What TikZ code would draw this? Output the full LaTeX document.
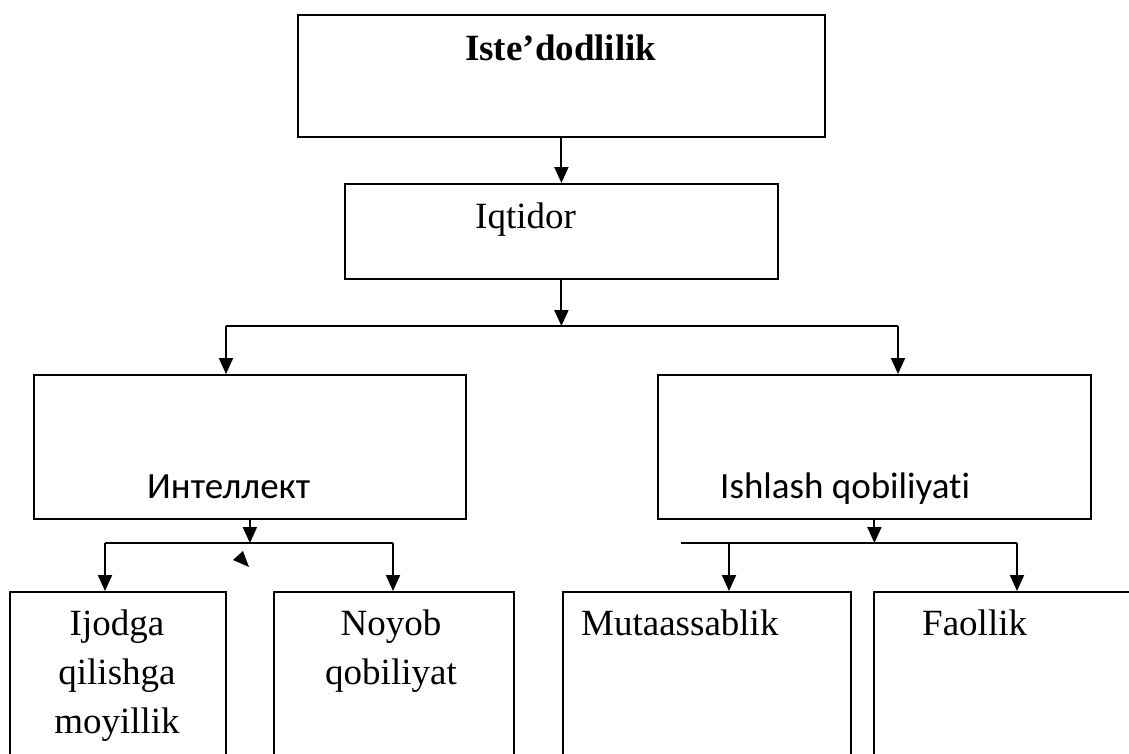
\documentclass[tikz,border=0pt]{standalone}
\usepackage{fontspec}
\setmainfont{Liberation Serif}
\newfontfamily\labelsans[Ligatures=NoCommon]{Carlito}
\usetikzlibrary{arrows.meta}

\tikzset{
  box/.style={draw, line width=1.8pt, inner sep=0pt, anchor=north west},
  link/.style={line width=2pt},
  arr/.style={link, -{Triangle[length=16pt,width=14pt]}},
  serif/.style={inner sep=0pt, font=\fontsize{37}{49}\selectfont},
  sans/.style={inner sep=0pt, font=\labelsans\fontsize{37}{49}\selectfont},
}

\begin{document}
\begin{tikzpicture}[x=1pt, y=-1pt]
  \useasboundingbox (0,0) rectangle (1129,753);
  \fill[white] (0,0) rectangle (1129,753);
  \clip (0,0) rectangle (1129,753);

  % boxes
  \node[box, minimum width=527pt, minimum height=122pt] (top) at (297,14) {};
  \node[box, minimum width=433pt, minimum height=95pt]  (iqt) at (344,183) {};
  \node[box, minimum width=432pt, minimum height=144pt] (int) at (33,374) {};
  \node[box, minimum width=433pt, minimum height=144pt] (ish) at (657,374) {};
  \node[box, minimum width=216pt, minimum height=220pt] (ijo) at (9,591) {};
  \node[box, minimum width=240pt, minimum height=220pt] (noy) at (273,591) {};
  \node[box, minimum width=288pt, minimum height=220pt] (mut) at (562,591) {};
  \node[box, minimum width=300pt, minimum height=220pt] (fao) at (873,591) {};

  % labels
  \node[serif, anchor=base west, font=\bfseries\fontsize{37}{49}\selectfont] (ttop) at (465,60) {Iste’dodlilik};
  \node[serif, anchor=base west] (tiqt) at (475,228) {Iqtidor};
  \node[sans, anchor=base west] (tint) at (147,498) {Интеллект};
  \node[sans, anchor=base west] (tish) at (720,498) {Ishlash qobiliyati};
  \node[serif, anchor=base] (tijo1) at (117,635) {Ijodga};
  \node[serif, anchor=base] (tijo2) at (117,684) {qilishga};
  \node[serif, anchor=base] (tijo3) at (117,733) {moyillik};
  \node[serif, anchor=base] (tnoy1) at (391,635) {Noyob};
  \node[serif, anchor=base] (tnoy2) at (391,684) {qobiliyat};
  \node[serif, anchor=base west] (tmut) at (581,635) {Mutaassablik};
  \node[serif, anchor=base west] (tfao) at (922,635) {Faollik};

  % junction points of the branching lines
  \coordinate (ja) at (226,326);
  \coordinate (jb) at (898,326);
  \coordinate (jc) at (105,543);
  \coordinate (jd) at (393,543);
  \coordinate (je) at (681,543);
  \coordinate (jf) at (729,543);
  \coordinate (jg) at (1017,543);

  % connectors
  \draw[arr] (top.south) -- (iqt.north);
  \draw[arr] (iqt.south) -- (iqt.south |- ja);
  \draw[link] (ja) -- (jb);
  \draw[arr] (ja) -- (ja |- int.north);
  \draw[arr] (jb) -- (jb |- ish.north);

  \draw[arr] (int.south) -- (int.south |- jc);
  \draw[link] (jc) -- (jd);
  \draw[arr] (jc) -- (jc |- ijo.north);
  \draw[arr] (jd) -- (jd |- noy.north);

  \draw[arr] (ish.south) -- (ish.south |- je);
  \draw[link] (je) -- (jg);
  \draw[arr] (jf) -- (jf |- mut.north);
  \draw[arr] (jg) -- (jg |- fao.north);

  % loose arrowhead below the left junction line
  \fill (233,560) -- (243,551) -- (249,567) -- cycle;
\end{tikzpicture}
\end{document}
